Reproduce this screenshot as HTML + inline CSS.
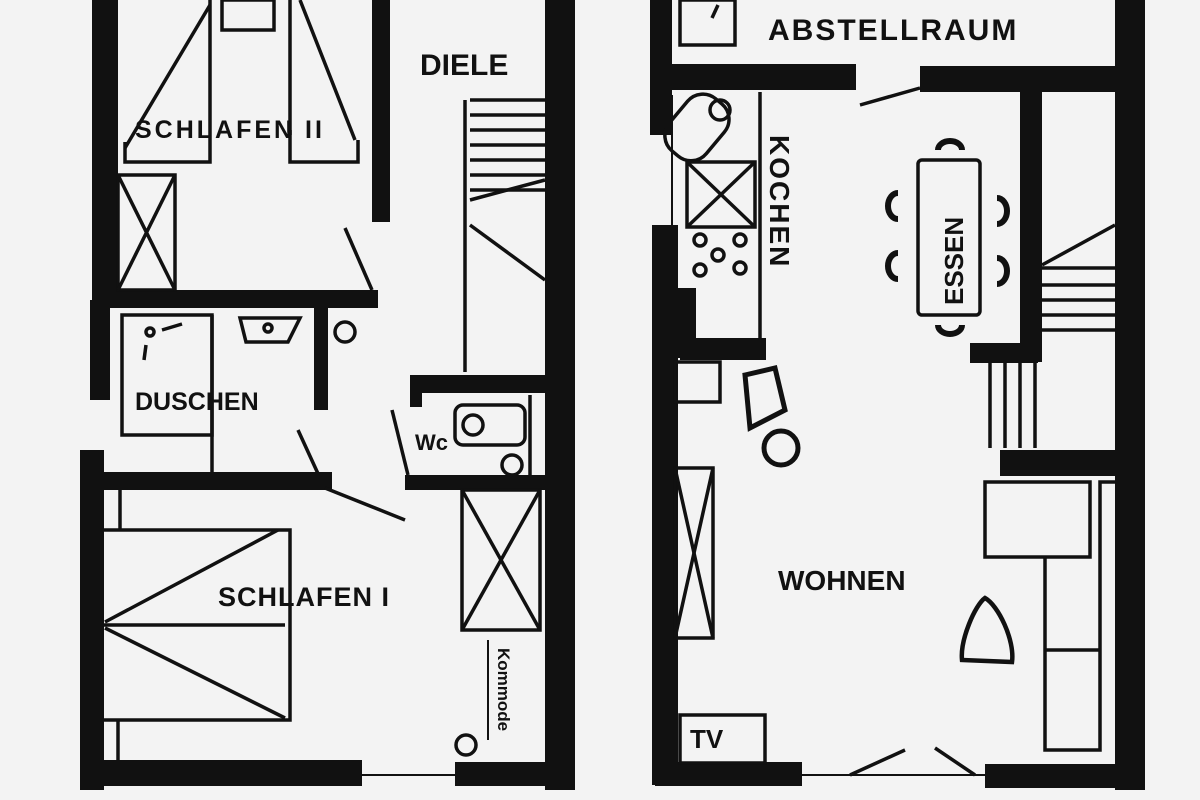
<!DOCTYPE html>
<html><head><meta charset="utf-8"><style>
html,body{margin:0;padding:0;background:#f3f3f3;}
svg{display:block}
text{font-family:"Liberation Sans Narrow","Liberation Sans",sans-serif;fill:#111;font-weight:bold}
</style></head><body>
<svg width="1200" height="800" viewBox="0 0 1200 800" xmlns="http://www.w3.org/2000/svg">
<rect width="1200" height="800" fill="#f3f3f3"/>
<g fill="#111">
<rect x="92" y="0" width="26" height="300"/>
<rect x="90" y="300" width="20" height="100"/>
<rect x="80" y="450" width="24" height="340"/>
<rect x="545" y="0" width="30" height="790"/>
<rect x="372" y="0" width="18" height="222"/>
<rect x="100" y="290" width="278" height="18"/>
<rect x="314" y="308" width="14" height="102"/>
<rect x="100" y="472" width="232" height="18"/>
<rect x="80" y="760" width="282" height="26"/>
<rect x="455" y="762" width="105" height="24"/>
<rect x="410" y="375" width="135" height="18"/>
<rect x="410" y="375" width="12" height="32"/>
<rect x="405" y="475" width="140" height="15"/>
<rect x="650" y="0" width="22" height="135"/>
<rect x="652" y="225" width="26" height="560"/>
<rect x="678" y="288" width="18" height="70"/>
<rect x="660" y="64" width="196" height="26"/>
<rect x="920" y="66" width="195" height="26"/>
<rect x="1115" y="0" width="30" height="790"/>
<rect x="1020" y="90" width="22" height="272"/>
<rect x="970" y="343" width="68" height="20"/>
<rect x="1000" y="450" width="115" height="26"/>
<rect x="680" y="338" width="86" height="22"/>
<rect x="655" y="762" width="147" height="24"/>
<rect x="985" y="764" width="155" height="24"/>
</g>
<g stroke="#111" fill="none" stroke-width="3.5">
<rect x="222" y="0" width="52" height="30"/>
<line x1="210" y1="0" x2="210" y2="130"/><line x1="290" y1="0" x2="290" y2="135"/>
<line x1="125" y1="148" x2="210" y2="5"/><line x1="355" y1="140" x2="300" y2="0"/>
<polyline points="125,142 125,162 210,162 210,130"/>
<polyline points="290,130 290,162 358,162 358,140"/>
<rect x="118" y="175" width="57" height="115"/>
<line x1="118" y1="175" x2="175" y2="290"/><line x1="175" y1="175" x2="118" y2="290"/>
<line x1="345" y1="228" x2="372" y2="290"/>
<rect x="122" y="315" width="90" height="120"/>
<line x1="212" y1="315" x2="212" y2="472"/>
<path d="M240 318 L300 318 L288 342 L246 342 Z"/>
<circle cx="268" cy="328" r="4"/>
<circle cx="150" cy="332" r="4"/><line x1="162" y1="330" x2="182" y2="324"/><line x1="146" y1="345" x2="144" y2="360"/>
<line x1="298" y1="430" x2="320" y2="478"/><line x1="325" y1="488" x2="405" y2="520"/>
<circle cx="345" cy="332" r="10"/>
<line x1="120" y1="490" x2="120" y2="530"/>
<polyline points="100,530 290,530 290,720 100,720"/>
<line x1="102" y1="625" x2="285" y2="625"/>
<line x1="105" y1="622" x2="278" y2="530"/><line x1="105" y1="628" x2="285" y2="718"/>
<line x1="118" y1="720" x2="118" y2="760"/>
<line x1="360" y1="775" x2="455" y2="775" stroke-width="2"/>
<line x1="465" y1="100" x2="465" y2="372"/>
<line x1="470" y1="100" x2="545" y2="100"/><line x1="470" y1="115" x2="545" y2="115"/>
<line x1="470" y1="130" x2="545" y2="130"/><line x1="470" y1="145" x2="545" y2="145"/>
<line x1="470" y1="160" x2="545" y2="160"/><line x1="470" y1="175" x2="545" y2="175"/>
<line x1="470" y1="190" x2="545" y2="190"/><line x1="470" y1="200" x2="545" y2="180"/>
<line x1="470" y1="225" x2="545" y2="280"/>
<rect x="455" y="405" width="70" height="40" rx="8"/><circle cx="473" cy="425" r="10"/>
<line x1="392" y1="410" x2="408" y2="475"/>
<line x1="530" y1="395" x2="530" y2="475"/>
<circle cx="512" cy="465" r="10"/>
<rect x="462" y="490" width="78" height="140"/>
<line x1="462" y1="490" x2="540" y2="630"/><line x1="540" y1="490" x2="462" y2="630"/>
<line x1="488" y1="640" x2="488" y2="740" stroke-width="2"/>
<circle cx="466" cy="745" r="10"/>
<rect x="680" y="0" width="55" height="45"/><line x1="712" y1="18" x2="718" y2="5"/>
<line x1="860" y1="105" x2="920" y2="88"/>
<line x1="760" y1="92" x2="760" y2="340"/>
<line x1="672" y1="95" x2="672" y2="225" stroke-width="2"/>
<rect x="672" y="96" width="48" height="68" rx="20" transform="rotate(40 700 130)"/>
<circle cx="720" cy="110" r="10"/>
<rect x="687" y="162" width="68" height="65"/>
<line x1="687" y1="162" x2="755" y2="227"/><line x1="755" y1="162" x2="687" y2="227"/>
<circle cx="700" cy="240" r="6"/><circle cx="700" cy="270" r="6"/>
<circle cx="740" cy="240" r="6"/><circle cx="740" cy="268" r="6"/><circle cx="718" cy="255" r="6"/>
<rect x="918" y="160" width="62" height="155" rx="4"/>
</g>
<g stroke="#111" fill="none" stroke-width="6">
<path d="M938 150 a12 9 0 0 1 24 0"/><path d="M938 325 a12 9 0 0 0 24 0"/>
<path d="M898 193 a10 13 0 0 0 0 26"/><path d="M898 253 a10 13 0 0 0 0 26"/>
<path d="M997 198 a10 13 0 0 1 0 26"/><path d="M997 258 a10 13 0 0 1 0 26"/>
</g>
<g stroke="#111" fill="none" stroke-width="3.5">
<line x1="1042" y1="265" x2="1115" y2="225"/>
<line x1="1042" y1="268" x2="1115" y2="268"/><line x1="1042" y1="285" x2="1115" y2="285"/>
<line x1="1042" y1="300" x2="1115" y2="300"/><line x1="1042" y1="315" x2="1115" y2="315"/>
<line x1="1042" y1="330" x2="1115" y2="330"/>
<line x1="990" y1="362" x2="990" y2="448"/><line x1="1005" y1="362" x2="1005" y2="448"/>
<line x1="1020" y1="362" x2="1020" y2="448"/><line x1="1035" y1="362" x2="1035" y2="448"/>
<path d="M745 375 L775 368 L785 410 L750 428 Z" stroke-width="5"/><circle cx="781" cy="448" r="17" stroke-width="5"/>
<rect x="675" y="362" width="45" height="40"/>
<rect x="675" y="468" width="38" height="170"/>
<line x1="675" y1="468" x2="713" y2="638"/><line x1="713" y1="468" x2="675" y2="638"/>
<rect x="985" y="482" width="105" height="75"/>
<polyline points="1115,482 1100,482 1100,750 1045,750 1045,557"/>
<line x1="1045" y1="650" x2="1100" y2="650"/>
<path d="M985 598 C975 605 960 640 962 660 L1012 662 C1015 640 998 605 985 598 Z" stroke-width="4.5"/>
<rect x="680" y="715" width="85" height="48"/>
<line x1="800" y1="775" x2="985" y2="775" stroke-width="2"/>
<line x1="850" y1="775" x2="905" y2="750"/><line x1="935" y1="748" x2="975" y2="775"/>
</g>
<text x="420" y="75" font-size="30">DIELE</text>
<text x="135" y="138" font-size="25" letter-spacing="3">SCHLAFEN II</text>
<text x="135" y="410" font-size="25">DUSCHEN</text>
<text x="218" y="606" font-size="27" letter-spacing="1">SCHLAFEN I</text>
<text x="415" y="450" font-size="22">Wc</text>
<text x="498" y="648" font-size="17" transform="rotate(90 498 648)">Kommode</text>
<text x="768" y="40" font-size="30" letter-spacing="2">ABSTELLRAUM</text>
<text x="770" y="135" font-size="28" transform="rotate(90 770 135)" letter-spacing="2">KOCHEN</text>
<text x="963" y="305" font-size="26" transform="rotate(-90 963 305)">ESSEN</text>
<text x="778" y="590" font-size="28">WOHNEN</text>
<text x="690" y="748" font-size="26">TV</text>
</svg>
</body></html>
